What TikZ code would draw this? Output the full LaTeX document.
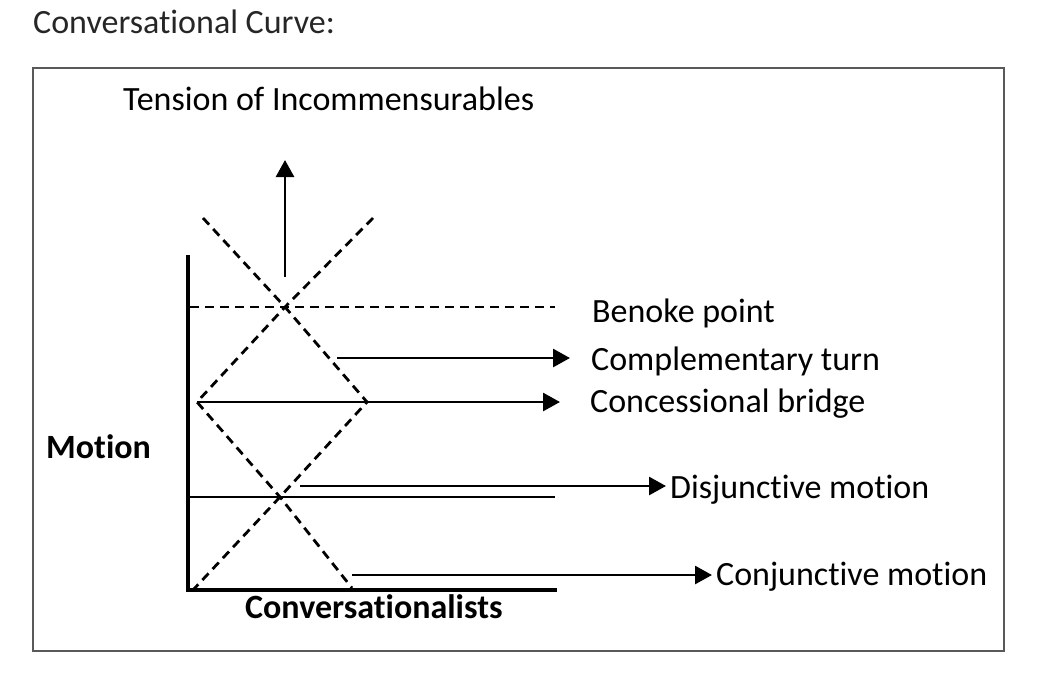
\documentclass[tikz,border=0pt]{standalone}
\usepackage{fontspec}
\setmainfont{Carlito}[RawFeature=-liga]
\usetikzlibrary{arrows.meta,positioning}

\begin{document}
\begin{tikzpicture}[x=1pt,y=-1pt,font=\fontsize{34}{40}\selectfont,>={Triangle[length=17pt,width=18pt]},
  ax/.style={line width=3.2pt},ar/.style={line width=2.8pt,->},dl/.style={line width=2.8pt,dash pattern=on 9pt off 6pt},
  lb/.style={anchor=base west,inner sep=0pt},hd/.style={lb,font=\fontsize{34}{40}\selectfont\bfseries}]
\useasboundingbox (0,0) rectangle (1053,688);
\node[lb,text=black!85](title) at (33,33){Conversational Curve:};
\draw[black!65,line width=1.6pt] (33,68) rectangle (1004,651);
\node[lb](tens) at (123,110){Tension of Incommensurables};
\node[hd](mot) at (46,458){Motion};
\node[hd](conv) at (245,618){Conversationalists};
% axes
\coordinate (yt) at (188,255);\coordinate (o) at (188,590);\coordinate (xr) at (557,590);
\draw[ax] (yt)--(o)--(xr);
% dashed curve
\coordinate (t) at (285,307);\coordinate (l) at (197,402);\coordinate (r) at (367,402);\coordinate (b) at (280,497);
\coordinate (ul) at (203,218);\coordinate (ur) at (373,218);\coordinate (ll) at (193,590);\coordinate (lr) at (352,588);
\draw[dl] (ul)--(t)--(r)--(b)--(ll);
\draw[dl] (ur)--(t)--(l)--(b)--(lr);
\coordinate (bp0) at (190,307);\coordinate (bp1) at (555,307);
\draw[dl,line width=2.4pt] (bp0)--(bp1);
\coordinate (dl0) at (188,497);\coordinate (dl1) at (555,497);
\draw[line width=2.6pt] (dl0)--(dl1);
% arrows
\coordinate (up0) at (285,277);\coordinate (up1) at (285,160);
\coordinate (ct0) at (337,358);\coordinate (ct1) at (570,358);
\coordinate (cb0) at (197,402);\coordinate (cb1) at (560,402);
\coordinate (dm0) at (300,486);\coordinate (dm1) at (666,486);
\coordinate (cm0) at (352,575);\coordinate (cm1) at (712,575);
\foreach \x/\y in {up0/up1,ct0/ct1,cb0/cb1,dm0/dm1,cm0/cm1} \draw[ar](\x)--(\y);
\node[lb](bpt) at (592,322){Benoke point};
\node[lb](comp) at (591,370){Complementary turn};
\node[lb](conc) at (590,412){Concessional bridge};
\node[lb](disj) at (670,498){Disjunctive motion};
\node[lb](conj) at (716,585){Conjunctive motion};
\end{tikzpicture}
\end{document}
